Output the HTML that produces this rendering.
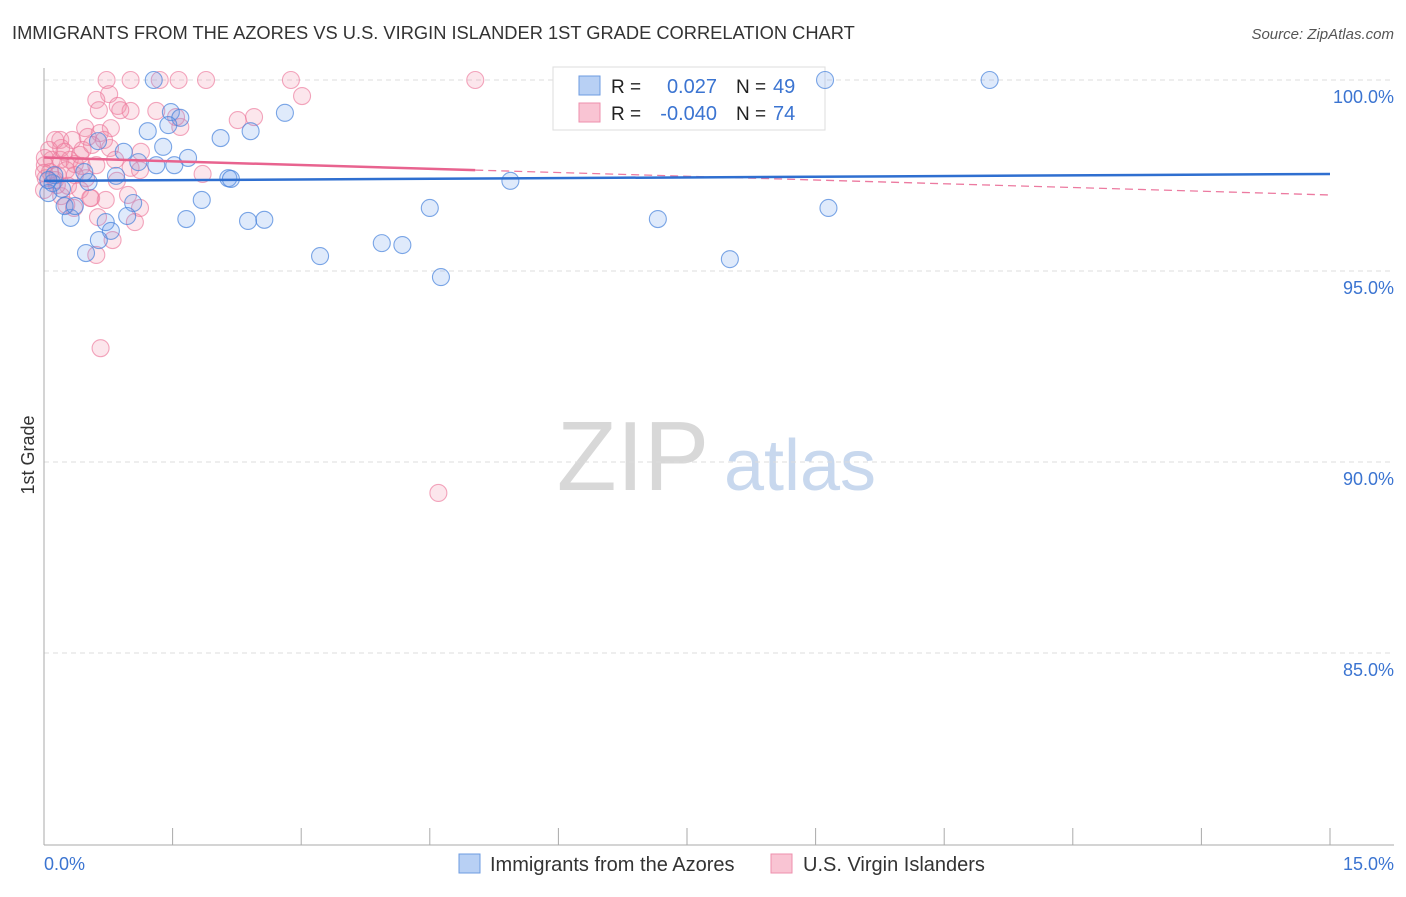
<!DOCTYPE html>
<html><head><meta charset="utf-8"><style>
body{margin:0;background:#fff;font-family:"Liberation Sans",sans-serif;}
svg text{font-family:"Liberation Sans",sans-serif;}
</style></head><body>
<svg width="1406" height="892" viewBox="0 0 1406 892" xmlns="http://www.w3.org/2000/svg" id="chart">
<text x="12" y="39" font-size="18.3" fill="#333">IMMIGRANTS FROM THE AZORES VS U.S. VIRGIN ISLANDER 1ST GRADE CORRELATION CHART</text>
<text x="1394" y="39" font-size="15" fill="#555" text-anchor="end" font-style="italic">Source: ZipAtlas.com</text>
<g>
<text x="633" y="490" font-size="98" fill="#d8d8d8" font-family="Liberation Serif, serif" text-anchor="middle">ZIP</text>
<text x="800" y="490" font-size="72" fill="#c8d8ee" text-anchor="middle">atlas</text>
</g>
<g id="grid"></g>
<g id="axes"></g>
<g id="legend-box">
<rect x="553" y="67" width="272" height="63" fill="#fff" stroke="#ddd"/>
<rect x="579" y="76" width="21" height="19" fill="#b8d0f4" stroke="#6d9be0"/>
<rect x="579" y="103" width="21" height="19" fill="#f9c4d3" stroke="#ee8fac"/>
<text x="611" y="93" font-size="19" fill="#222">R =</text>
<text x="717" y="93" font-size="20" fill="#3b74d1" text-anchor="end">0.027</text>
<text x="736" y="93" font-size="19" fill="#222">N =</text>
<text x="773" y="93" font-size="20" fill="#3b74d1">49</text>
<text x="611" y="120" font-size="19" fill="#222">R =</text>
<text x="717" y="120" font-size="20" fill="#3b74d1" text-anchor="end">-0.040</text>
<text x="736" y="120" font-size="19" fill="#222">N =</text>
<text x="773" y="120" font-size="20" fill="#3b74d1">74</text>
</g>
<g id="marks"></g>
<text x="34" y="455" font-size="18" fill="#333" text-anchor="middle" transform="rotate(-90 34 455)">1st Grade</text>
<text x="44" y="870" font-size="18" fill="#3b74d1">0.0%</text>
<text x="1394" y="870" font-size="18" fill="#3b74d1" text-anchor="end">15.0%</text>
<g>
<rect x="459" y="854" width="21" height="19" fill="#b8d0f4" stroke="#6d9be0"/>
<text x="490" y="871" font-size="20" fill="#333">Immigrants from the Azores</text>
<rect x="771" y="854" width="21" height="19" fill="#f9c4d3" stroke="#ee8fac"/>
<text x="803" y="871" font-size="20" fill="#333">U.S. Virgin Islanders</text>
</g>
</svg>
<script>
const yTicks=[100,95,90,85];
const yTickLabels=["100.0%","95.0%","90.0%","85.0%"];
const blueX=[1.28,9.11,11.03,1.21,1.48,1.59,1.45,2.06,2.41,2.81,1.39,0.63,0.93,1.10,1.31,1.52,1.68,2.15,2.18,0.84,0.52,0.10,0.21,0.05,5.44,0.47,1.04,1.84,4.50,9.15,0.31,1.66,0.97,0.72,2.38,2.57,7.16,0.78,0.64,3.94,4.18,0.49,3.22,8.00,4.63,0.24,0.12,0.36,0.05];
const blueY=[100,100,100,98.66,99.16,99.01,98.82,98.48,98.66,99.14,98.25,98.40,98.12,97.85,97.77,97.77,97.96,97.43,97.41,97.49,97.33,97.30,97.15,97.04,97.36,97.59,96.78,96.86,96.65,96.65,96.39,96.36,96.44,96.28,96.31,96.34,96.36,96.05,95.81,95.73,95.68,95.47,95.39,95.31,94.84,96.70,97.51,96.70,97.38];
const pinkX=[0.73,1.01,1.35,1.57,1.89,2.88,5.03,3.01,0.76,0.61,0.86,0.64,1.31,1.01,2.45,2.26,1.59,0.48,0.78,0.65,0.19,0.33,0.51,0.70,0.20,0.77,1.13,0.06,0.09,0.19,0.30,0.36,0.44,0.61,1.01,1.12,0.01,0.07,0.16,0.36,0.49,0.85,1.85,0.02,0.13,0.28,0.42,0.20,0.55,0.72,0.98,1.12,0.26,0.35,0.54,1.06,0.63,0.80,0.61,0.66,4.60,1.54,0.89,0.13,0.24,0.42,0.00,0.01,0.45,0.56,0.83,0.26,0.15,0.00];
const pinkY=[100,100,100,100,100,100,100,99.58,99.63,99.48,99.32,99.21,99.19,99.19,99.03,98.95,98.77,98.74,98.74,98.61,98.43,98.43,98.51,98.43,98.22,98.22,98.12,98.17,97.91,97.91,97.91,97.80,97.75,97.77,97.70,97.64,97.77,97.59,97.51,97.51,97.43,97.36,97.54,97.43,97.38,97.23,97.12,96.96,96.91,96.86,96.99,96.65,96.73,96.65,96.91,96.28,96.41,95.81,95.42,92.98,89.19,99.03,99.21,98.43,98.12,98.04,97.12,97.96,98.17,98.30,97.91,97.64,97.25,97.57];
const blueTrend=[97.36,97.54];
const pinkTrend=[97.97,96.99];
const pinkSolidEnd=5.03;
const NS="http://www.w3.org/2000/svg";
const X=v=>44+v/15*1286;
const Y=v=>80+(100-v)/5*191;
function mk(tag,attrs,parent){const e=document.createElementNS(NS,tag);for(const k in attrs)e.setAttribute(k,attrs[k]);parent.appendChild(e);return e;}
const grid=document.getElementById('grid'),axes=document.getElementById('axes'),marks=document.getElementById('marks');
yTicks.forEach((t,i)=>{
 const l=mk('line',{x1:44,x2:1394,y1:Y(t),y2:Y(t),stroke:'#ddd','stroke-dasharray':'5,4'},grid);
 
 
 const tx=mk('text',{x:1394,y:Y(t)+23,'font-size':18,fill:'#3b74d1','text-anchor':'end'},axes);
 tx.textContent=yTickLabels[i];
 
 
});
const ya=mk('line',{x1:44,x2:44,y1:68,y2:845,stroke:'#aaa'},axes);


const xa=mk('line',{x1:44,x2:1394,y1:845,y2:845,stroke:'#aaa'},axes);


for(let i=0;i<=10;i++){
 const t=mk('line',{x1:X(i*1.5),x2:X(i*1.5),y1:828,y2:845,stroke:'#aaa'},axes);
 
 
}
function dots(xs,ys,fill,stroke,name){
 xs.forEach((x,i)=>{
  const c=mk('circle',{cx:X(x),cy:Y(ys[i]),r:8.5,fill:fill,stroke:stroke,'stroke-width':1.1},marks);
  
  
 });
}
dots(pinkX,pinkY,'rgba(242,140,170,0.22)','rgba(236,120,155,0.65)','point-virgin-islanders');
dots(blueX,blueY,'rgba(110,160,235,0.22)','rgba(70,130,220,0.7)','point-azores');
const pinkAt=x=>pinkTrend[0]+(pinkTrend[1]-pinkTrend[0])*x/15;
const pd=mk('line',{x1:X(pinkSolidEnd),y1:Y(pinkAt(pinkSolidEnd)),x2:X(15),y2:Y(pinkTrend[1]),stroke:'#ec7aa0','stroke-width':1.3,'stroke-dasharray':'8,5'},marks);


const ps=mk('line',{x1:X(0),y1:Y(pinkTrend[0]),x2:X(pinkSolidEnd),y2:Y(pinkAt(pinkSolidEnd)),stroke:'#e8638f','stroke-width':2.5},marks);


const bl=mk('line',{x1:X(0),y1:Y(blueTrend[0]),x2:X(15),y2:Y(blueTrend[1]),stroke:'#2f6fd0','stroke-width':2.5},marks);


</script>
</body></html>
